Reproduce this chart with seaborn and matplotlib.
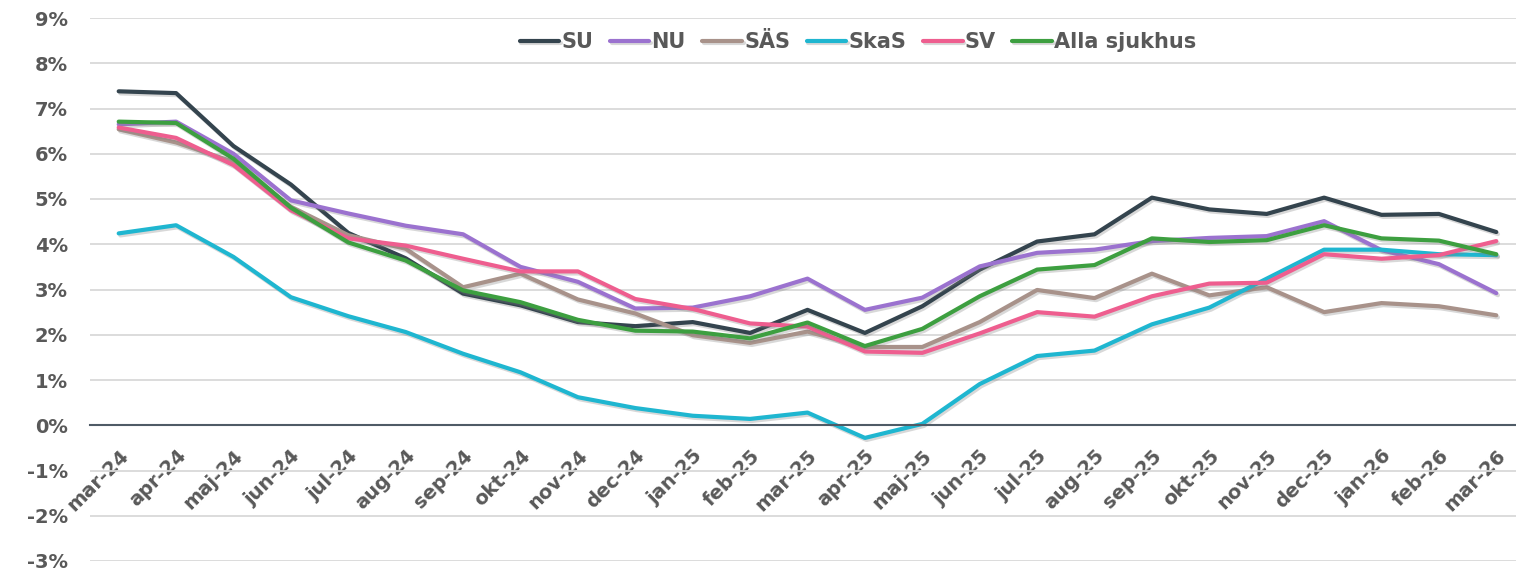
import pandas as pd
import seaborn as sns
import matplotlib.pyplot as plt
import matplotlib.ticker as ticker
import matplotlib.patheffects as pe

# Data (percent)
months = ['mar-24', 'apr-24', 'maj-24', 'jun-24', 'jul-24', 'aug-24', 'sep-24', 'okt-24',
          'nov-24', 'dec-24', 'jan-25', 'feb-25', 'mar-25', 'apr-25', 'maj-25', 'jun-25',
          'jul-25', 'aug-25', 'sep-25', 'okt-25', 'nov-25', 'dec-25', 'jan-26', 'feb-26', 'mar-26']

su = [7.38, 7.34, 6.17, 5.32, 4.25, 3.69, 2.91, 2.65, 2.28, 2.19, 2.28, 2.04, 2.55,
      2.04, 2.63, 3.44, 4.06, 4.22, 5.03, 4.77, 4.67, 5.03, 4.65, 4.67, 4.27]
nu = [6.65, 6.71, 6.00, 4.97, 4.68, 4.41, 4.22, 3.50, 3.17, 2.58, 2.60, 2.85, 3.24,
      2.55, 2.82, 3.51, 3.81, 3.88, 4.07, 4.14, 4.18, 4.51, 3.87, 3.56, 2.92]
sas = [6.54, 6.25, 5.82, 4.83, 4.20, 3.90, 3.05, 3.35, 2.78, 2.47, 1.99, 1.82, 2.07,
       1.73, 1.73, 2.28, 2.99, 2.81, 3.35, 2.87, 3.05, 2.50, 2.70, 2.63, 2.43]
skas = [4.24, 4.42, 3.72, 2.83, 2.41, 2.06, 1.58, 1.17, 0.62, 0.38, 0.21, 0.14, 0.28,
        -0.28, 0.03, 0.91, 1.53, 1.65, 2.23, 2.60, 3.24, 3.88, 3.88, 3.78, 3.76]
sv = [6.58, 6.35, 5.75, 4.75, 4.13, 3.97, 3.68, 3.40, 3.40, 2.79, 2.57, 2.25, 2.18,
      1.63, 1.60, 2.03, 2.50, 2.40, 2.85, 3.13, 3.15, 3.78, 3.68, 3.76, 4.07]
alla = [6.71, 6.68, 5.89, 4.81, 4.04, 3.64, 2.98, 2.72, 2.33, 2.09, 2.07, 1.92, 2.27,
        1.75, 2.13, 2.85, 3.44, 3.54, 4.13, 4.05, 4.09, 4.42, 4.13, 4.08, 3.78]

series = {'SU': su, 'NU': nu, 'SÄS': sas, 'SkaS': skas, 'SV': sv, 'Alla sjukhus': alla}
colors = {'SU': '#34444e', 'NU': '#9b72cf', 'SÄS': '#a8928a',
          'SkaS': '#1fb6d0', 'SV': '#ee5e8f', 'Alla sjukhus': '#3d9f40'}

rows = []
for name, vals in series.items():
    for i, v in enumerate(vals):
        rows.append({'idx': i, 'value': v, 'sjukhus': name})
df = pd.DataFrame(rows)

sns.set_style('white')
plt.rcParams['font.family'] = ['DejaVu Sans']

fig = plt.figure(figsize=(15.16, 5.72), dpi=100)
ax = fig.add_axes([90 / 1516, 1 - 561 / 572, 1435 / 1516, 543 / 572])

sns.lineplot(data=df, x='idx', y='value', hue='sjukhus', palette=colors,
             hue_order=list(series.keys()), linewidth=3, ax=ax, legend=True)

for line in ax.lines:
    line.set_solid_capstyle('round')
    line.set_path_effects([pe.SimpleLineShadow(offset=(1.2, -1.5), alpha=0.3, shadow_color='gray'),
                           pe.Normal()])

ax.set_xlim(-0.5, 24.5)
ax.set_ylim(-3, 9)
ax.set_xlabel('')
ax.set_ylabel('')

# y axis
ax.set_yticks(range(-3, 10))
ax.yaxis.set_major_formatter(ticker.FuncFormatter(lambda v, pos: '{:.0f}%'.format(v)))
ax.grid(axis='y', color='#d9d9d9', linewidth=1.3)
ax.grid(axis='x', visible=False)
ax.tick_params(axis='y', length=0, pad=16, labelsize=14, labelcolor='#595959')
for lab in ax.get_yticklabels():
    lab.set_fontweight('bold')

# x axis on the 0 line, tick marks between categories
for s in ['left', 'right', 'top']:
    ax.spines[s].set_visible(False)
ax.spines['bottom'].set_position(('data', 0))
ax.spines['bottom'].set_color('#4f5b66')
ax.spines['bottom'].set_linewidth(1.5)
ax.set_xticks([i - 0.5 for i in range(len(months) + 1)])
ax.set_xticklabels([])
ax.tick_params(axis='x', which='major', direction='out', length=6, width=1.3, color='#4f5b66')
ax.set_xticks(range(len(months)), minor=True)
ax.set_xticklabels(months, minor=True, rotation=45, ha='right', rotation_mode='anchor',
                   fontsize=14, fontweight='bold', color='#595959')
ax.tick_params(axis='x', which='minor', length=0, pad=15)

handles, labels = ax.get_legend_handles_labels()
ax.legend(handles, labels, loc='center', bbox_to_anchor=(858 / 1516, 1 - 42 / 572),
          bbox_transform=fig.transFigure, ncol=6, frameon=False,
          handlelength=1.9, handletextpad=0.1, columnspacing=0.8,
          prop={'size': 15, 'weight': 'bold'}, labelcolor='#595959')
for h in ax.get_legend().get_lines():
    h.set_linewidth(3)

fig.savefig('out.png', dpi=100)
